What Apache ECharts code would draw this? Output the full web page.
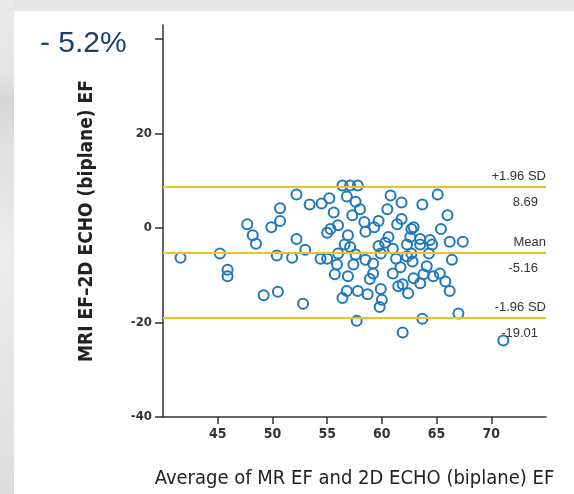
<!DOCTYPE html>
<html><head><meta charset="utf-8">
<script src="https://cdn.jsdelivr.net/npm/echarts@6/dist/echarts.min.js"></script>
<style>
html,body{margin:0;padding:0;width:574px;height:494px;overflow:hidden;background:#e6e6e6;}
#left{position:absolute;left:0;top:0;width:14px;height:494px;background:linear-gradient(to bottom,#e9e9e9 0px,#e6e6e6 70px,#d6d6d6 100px,#dedede 140px,#ececec 250px,#e4e4e4 400px,#dcdcdc 494px);}
#panel{position:absolute;left:14px;top:11px;width:560px;height:483px;background:#fff;}
#chart{position:absolute;left:0;top:0;width:574px;height:494px;}
</style></head>
<body>
<div id="left"></div>
<div id="panel"></div>
<div id="chart"></div>
<script>
// Average of MR EF and 2D ECHO (biplane) EF
const avgEF = [41.6,45.2,45.9,45.9,47.7,48.2,48.5,49.2,50.5,49.9,50.7,50.7,50.4,51.8,52.2,52.2,53.0,52.8,53.4,54.5,
55.2,55.6,56.0,55.3,55.0,54.4,55.0,55.9,55.7,56.0,56.4,57.1,57.8,56.8,57.6,57.3,56.9,58.4,58.5,56.9,
57.1,57.6,57.4,58.5,59.2,59.2,56.4,56.8,57.8,58.7,57.7,59.7,59.9,60.0,59.8,60.5,60.8,61.4,61.8,61.0,
61.5,60.6,60.3,61.0,61.3,61.7,61.9,61.8,62.9,62.6,63.5,64.4,63.7,65.1,66.0,66.2,67.4,62.3,63.5,64.6,
62.3,62.8,64.3,66.4,64.1,63.8,62.9,64.7,65.3,65.8,63.5,61.9,62.4,66.2,67.0,63.7,71.1,56.6,58.9,59.3,
59.7,59.9,62.7,62.7,65.4,58.0];
// MRI EF - 2D ECHO (biplane) EF
const diffEF = [-6.3,-5.4,-8.8,-10.2,0.8,-1.5,-3.3,-14.2,-13.5,0.2,4.2,1.5,-5.8,-6.3,7.1,-2.3,-4.6,-16.0,5.0,5.2,
6.3,3.3,0.6,-0.2,-1.0,-6.5,-6.5,-7.7,-9.8,-5.4,9.0,9.0,9.0,6.7,5.6,2.7,-1.5,1.3,-0.8,-10.2,
-4.0,-5.6,-7.7,-6.7,-7.5,-9.6,-14.8,-13.3,-13.3,-14.0,-19.6,1.5,-12.9,-15.2,-16.7,4.0,6.9,0.8,5.4,-9.6,
-12.3,-1.9,-3.1,-4.4,-6.5,-8.3,-22.1,1.9,0.2,-1.9,-2.3,-2.5,5.0,7.1,2.7,-2.9,-2.9,-3.5,-3.5,-3.5,
-6.0,-7.1,-5.4,-6.7,-8.1,-9.8,-10.6,-10.2,-9.6,-11.3,-11.7,-11.9,-13.8,-13.3,-18.1,-19.2,-23.8,-3.5,-10.8,0.2,
-3.8,-5.4,-0.2,-5.4,-0.2,4.0];
const limitNames = ['+1.96 SD','Mean','-1.96 SD'];
const limitValues = [8.69,-5.16,-19.01];
const xTicks = [45,50,55,60,65,70];
const yTicks = [-40,-20,0,20,40];
const yLabels = [-40,-20,0,20];

const narrow = "'Liberation Sans Narrow','Arial Narrow','DejaVu Sans Condensed',sans-serif";
const points = avgEF.map((x,i)=>[x,diffEF[i]]);
const mlData = [];
limitNames.forEach((n,i)=>{
  mlData.push({yAxis:limitValues[i], label:{position:'insideEndTop', formatter:n, distance:[0,4]}});
  mlData.push({yAxis:limitValues[i], label:{position:'insideEndBottom', formatter:limitValues[i].toFixed(2), distance:[8,9]}});
});

const chart = echarts.init(document.getElementById('chart'), null, {renderer:'canvas'});
chart.setOption({
  animation:false,
  title:{text:'- 5.2%', left:35, top:24, textStyle:{color:'#1b3f6f', fontSize:30, fontWeight:'normal', fontFamily:'Liberation Sans, Arial, sans-serif'}},
  grid:{left:163, right:28, top:25, bottom:72},
  xAxis:{type:'value', min:40, max:75, splitLine:{show:false},
    axisLine:{onZero:false, lineStyle:{color:'#333', width:1.5}},
    axisTick:{customValues:xTicks, length:7, lineStyle:{color:'#333', width:1.5}},
    axisLabel:{customValues:xTicks, color:'#333', fontSize:14, fontWeight:'bold', fontFamily:narrow, margin:10},
    name:'Average of MR EF and 2D ECHO (biplane) EF', nameLocation:'middle', nameGap:52,
    nameTextStyle:{color:'#222', fontSize:20, fontFamily:narrow}},
  yAxis:{type:'value', min:-40, max:43, splitLine:{show:false},
    axisLine:{onZero:false, lineStyle:{color:'#333', width:1.5}},
    axisTick:{customValues:yTicks, length:8, lineStyle:{color:'#333', width:1.5}},
    axisLabel:{customValues:yLabels, color:'#333', fontSize:13, fontWeight:'bold', fontFamily:narrow, margin:11},
    name:'MRI EF\u20132D ECHO (biplane) EF', nameLocation:'middle', nameGap:66, nameRotate:90,
    nameTextStyle:{color:'#222', fontSize:19, fontWeight:'bold', fontFamily:narrow}},
  series:[{type:'scatter', data:points, symbol:'circle', symbolSize:10,
    itemStyle:{color:'rgba(0,0,0,0)', borderColor:'#1f78bc', borderWidth:2, opacity:1},
    markLine:{silent:true, symbol:'none', lineStyle:{color:'#f0c21e', width:2, type:'solid'},
      label:{color:'#333', fontSize:13, fontFamily:'Liberation Sans, Arial, sans-serif'},
      data:mlData}
  }]
});
</script>
</body></html>
